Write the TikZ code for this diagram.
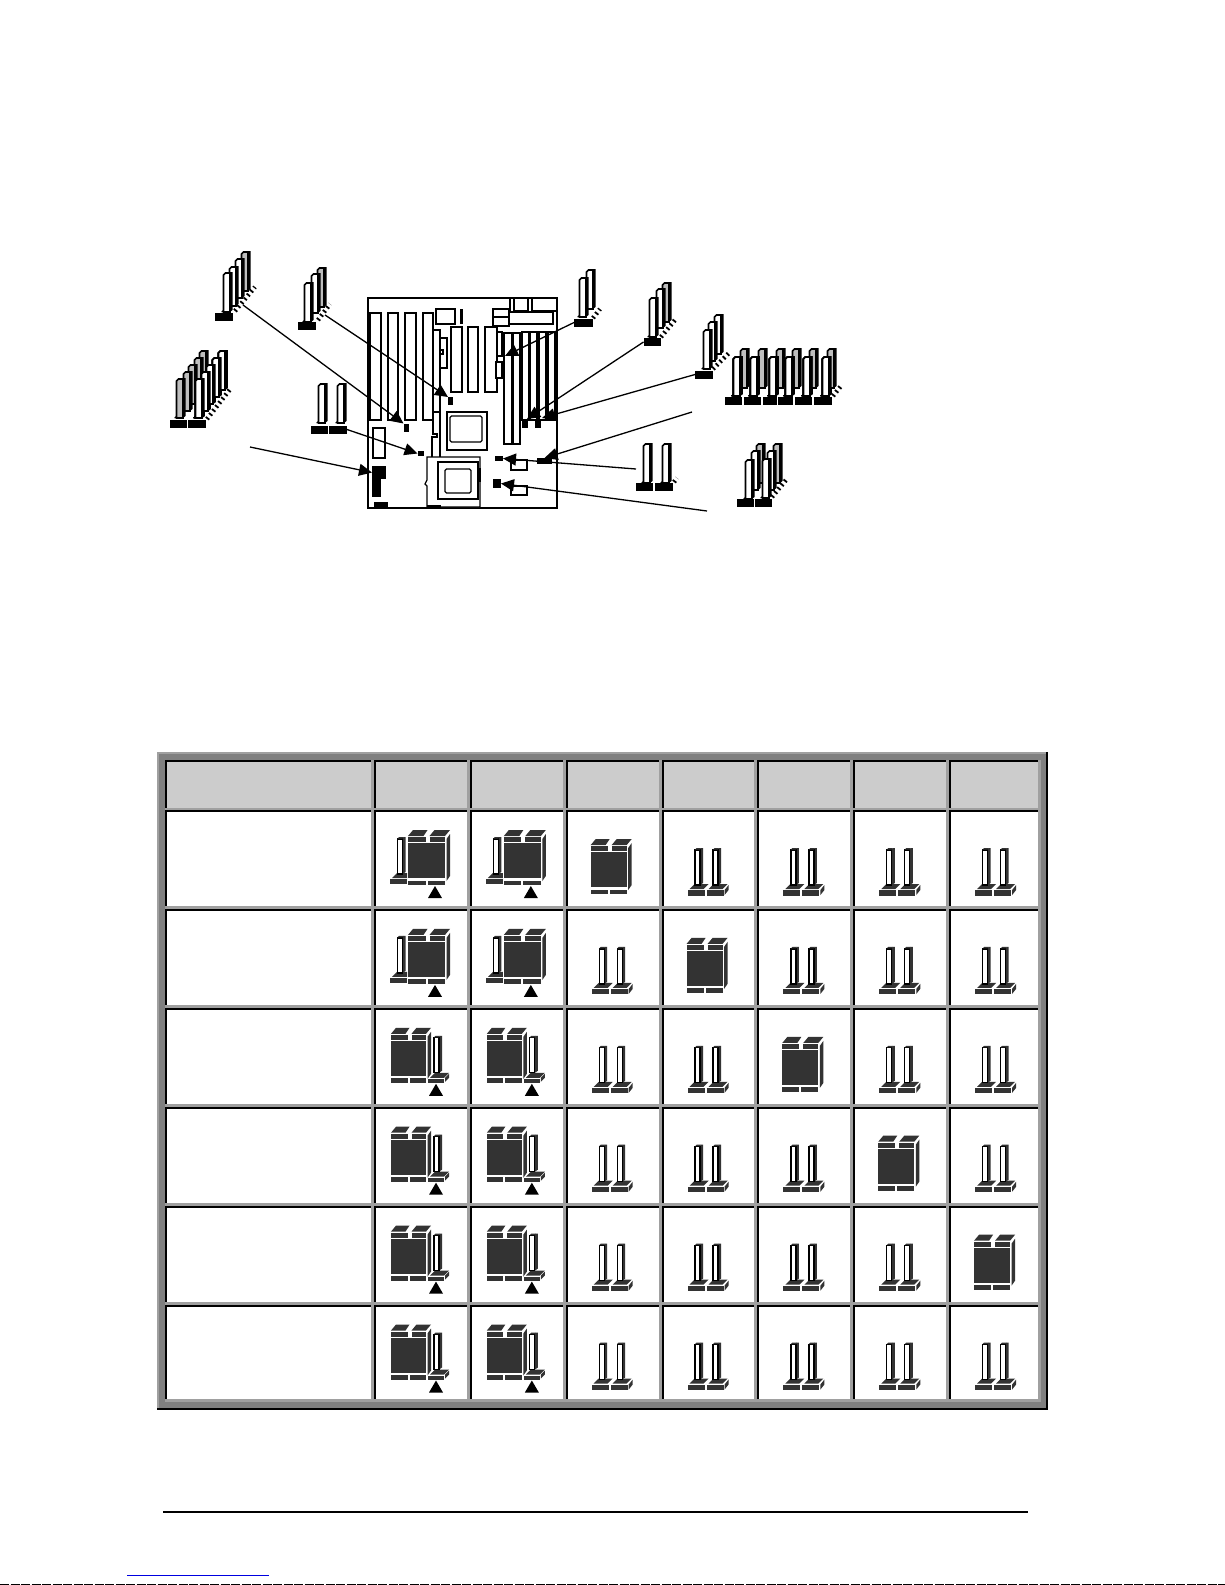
\documentclass[tikz,border=0pt]{standalone}
\usetikzlibrary{arrows.meta}
\definecolor{jmpdark}{HTML}{333333}
\definecolor{pingray}{HTML}{BEBEBE}
\definecolor{tabband}{HTML}{808080}
\definecolor{tabline}{HTML}{A0A0A0}
\definecolor{tabhead}{HTML}{CCCCCC}
\definecolor{pagelink}{HTML}{0000E0}
\tikzset{
	slot/.style={draw, line width=1.3pt, fill=white},
	spot/.style={fill=black, inner sep=0pt, outer sep=0pt, minimum width=5pt, minimum height=8pt},
	hdrbase/.style={fill=black, inner sep=0pt, outer sep=0pt, minimum width=17pt, minimum height=8pt},
	pointer/.style={line width=1.3pt, -{Stealth[length=13pt,width=12pt,inset=0pt]}},
	rail/.style={line width=4.5pt, dash pattern=on 1.8pt off 3.2pt}
}
% pin of a header on the board picture: left, top
\newcommand{\hdrpin}[3][white]{
	\fill (#2+5,#3+40) -- (#2-2,#3+40) -- (#2+5,#3+33) -- cycle;
	\draw[line width=1.6pt, fill=#1] (#2+.5,#3+3) -- (#2+2.5,#3+1) -- (#2+7,#3+1) -- (#2+7,#3+40) -- (#2+.5,#3+40) -- cycle;
	\fill (#2+7,#3+2) -- (#2+7.5,#3) -- (#2+9.5,#3) -- (#2+9.5,#3+38) -- (#2+7,#3+40) -- cycle;
}
% pin of a table icon, inside a cell scope
\newcommand{\tabpin}[2]{
	\fill[jmpdark] (#1+5,#2+1) -- (#1+6,#2) -- (#1+8,#2) -- (#1+8,#2+35) -- (#1+5,#2+37) -- cycle;
	\draw[line width=1.2pt, fill=white] (#1,#2+2) rectangle (#1+5,#2+37);
	\fill[jmpdark] (#1,#2+1.5) -- (#1+1.5,#2) -- (#1+6,#2) -- (#1+5,#2+1.5) -- cycle;
}
% piece of base with its top
\newcommand{\tabbase}[2]{
	\fill[jmpdark] (#1,#2) rectangle (#1+17,#2+5.5);
	\fill[jmpdark] (#1+2,#2-1) -- (#1+7,#2-6) -- (#1+21,#2-6) -- (#1+16,#2-1) -- cycle;
}
\newcommand{\openpair}{
	\tabbase{26}{80}
	\tabbase{45}{80}
	\fill[jmpdark] (63,85) -- (67,80) -- (67,75) -- (63,80) -- cycle;
	\tabpin{33.5}{38}
	\tabpin{51.5}{38}
}
% jumper cap: front corner, front width
\newcommand{\capjmp}[3]{
	\begin{scope}[shift={(#1,#2)}]
		\fill[jmpdark] (0,0) rectangle (#3,35);
		\fill[jmpdark] (0,-6) rectangle (#3/2-1,-1);
		\fill[jmpdark] (#3/2+3,-6) rectangle (#3,-1);
		\fill[jmpdark] (0,-7) -- (5,-13) -- (#3/2+1,-13) -- (#3/2-3,-7) -- cycle;
		\fill[jmpdark] (#3/2+3,-7) -- (#3/2+8,-13) -- (#3+5,-13) -- (#3,-7) -- cycle;
		\fill[jmpdark] (#3+1.5,-4) -- (#3+5,-9) -- (#3+5,33) -- (#3+1.5,38) -- cycle;
		\fill[jmpdark] (0,37.5) rectangle (#3/2-1,42);
		\fill[jmpdark] (#3/2+1,37.5) rectangle (#3,42);
	\end{scope}
}
\newcommand{\closedpair}{\capjmp{25}{42}{36}}
\newcommand{\jmptri}[1]{\fill (#1-7,88) -- (#1,76) -- (#1+7,88) -- cycle;}
\newcommand{\pinleft}{
	\fill[jmpdark] (16,69) rectangle (33,74);
	\fill[jmpdark] (18,68) -- (23,63) -- (33,63) -- (33,68) -- cycle;
	\tabpin{23.5}{27}
	\capjmp{34}{33}{37}
	\jmptri{61}
}
\newcommand{\pinright}{
	\capjmp{17}{33}{35}
	\fill[jmpdark] (54,71) rectangle (70,75);
	\fill[jmpdark] (56,70) -- (61,65) -- (75,65) -- (70,70) -- cycle;
	\fill[jmpdark] (71,74) -- (75,70) -- (75,66) -- (71,70) -- cycle;
	\tabpin{60}{28}
	\jmptri{62}
}
\begin{document}
\begin{tikzpicture}[x=1pt, y=-1pt]
	\useasboundingbox (0,0) rectangle (1225,1585);
	\fill[white] (0,0) rectangle (1225,1585);

	% the board
	\draw[line width=1.3pt] (368,298) rectangle (557,508);
	\foreach \sx/\sw in {370/11, 388/10, 405/11, 423/10}
		\draw[slot] (\sx,313) rectangle ++(\sw,107);
	\draw[line width=2pt] (370,313) -- (370,420);
	\draw[slot] (436,309) rectangle (455,324);
	\fill (460,309) rectangle (463,324);
	\draw[slot] (433,330) rectangle (440,412);
	\draw[slot] (440,338) rectangle (447,368);
	\draw[slot] (440,350) rectangle (443,354);
	\foreach \sx/\sw in {451/11, 468/10, 485/12}
		\draw[slot] (\sx,327) rectangle ++(\sw,65);
	\draw[slot] (497,332) rectangle (502,356);
	\draw[slot] (496,362) rectangle (502,378);
	\draw[slot] (493,309) rectangle (509,326);
	\draw[slot] (493,317) -- (509,317);
	\draw[slot] (509,312) rectangle (553,324);
	\draw[slot] (510,298) rectangle (514,312);
	\draw[slot] (514,298) rectangle (528,311);
	\draw[slot] (532,298) rectangle (557,311);
	\draw[slot] (504,333) rectangle (512,444);
	\draw[slot] (513,333) rectangle (520,444);
	\draw[line width=2pt] (512.5,333) -- (512.5,444);
	\foreach \sx in {522, 530, 539, 548}
		\draw[slot] (\sx,332) rectangle ++(7,88);
	\draw[slot] (447,412) rectangle (487,450);
	\draw[slot, rounded corners=1.5pt] (450,416) rectangle (482,442);
	\draw[slot] (373,428) rectangle (385,458);
	\draw[line width=1.2pt] (433,412) -- (433,434) -- (437,434) -- (437,437) -- (432,437) -- (432,457);
	\draw[line width=1.2pt] (440,412) -- (440,457);
	\draw[slot] (427,457) -- (480,457) -- (480,507) -- (427,507) -- (427,486) -- (425,484) -- (427,480) -- cycle;
	\draw[slot] (438,462) rectangle (478,499);
	\draw[slot, rounded corners=1.5pt] (445,469) rectangle (471,493);
	\fill (478,468) rectangle (481,482);
	\draw[slot] (511,460) rectangle (527,470);
	\draw[slot] (511,486) rectangle (527,495);
	\fill (427,505) rectangle (441,508);

	% jumpers on the board
	\node[spot] (spotA) at (406,427.5) {};
	\node[spot] (spotB) at (450.5,401) {};
	\node[spot, minimum width=6pt, minimum height=5pt] (spotC) at (420.5,453.5) {};
	\node[spot, minimum width=14pt, minimum height=13pt] (spotD) at (379,472.5) {};
	\node[spot, minimum width=9pt, minimum height=18pt] (spotD2) at (376.5,488) {};
	\node[spot, minimum width=14pt, minimum height=5pt] (spotD3) at (381,504.5) {};
	\node[spot, minimum width=6pt, minimum height=8pt] (spotF) at (525,424) {};
	\node[spot, minimum width=6pt, minimum height=8pt] (spotG) at (538,424) {};
	\node[spot, minimum width=15pt, minimum height=6pt] (spotH) at (544.5,461) {};
	\node[spot, minimum width=8pt, minimum height=5pt] (spotI) at (499,458.5) {};
	\node[spot, minimum width=8pt, minimum height=9pt] (spotJ) at (497,483.5) {};

	% header A
	\foreach \px/\py/\pc in {241/251/pingray, 235/258/white, 229/266/white, 223/272/white}
		\hdrpin[\pc]{\px}{\py}
	\node[hdrbase, minimum width=18pt] (baseA) at (224,317) {};
	\draw[rail] (235,311) -- (255,287);
	\coordinate (endA) at (243,305);
	% header B
	\foreach \px/\py/\pc in {317/267/pingray, 311/273/white, 304/282/white}
		\hdrpin[\pc]{\px}{\py}
	\node[hdrbase, minimum width=18pt] (baseB) at (307,325.5) {};
	\draw[rail] (318,320) -- (330,304);
	\coordinate (endB) at (325,315);
	% header C, two rows
	\foreach \px/\py/\pc in {199/350/pingray, 194/357/pingray, 188/364/pingray, 183/371/pingray, 176/378/pingray}
		\hdrpin[\pc]{\px}{\py}
	\foreach \px/\py in {218/350, 212/357, 206/364, 201/371, 195/378}
		\hdrpin{\px}{\py}
	\node[hdrbase] (baseC) at (178,424) {};
	\node[hdrbase, minimum width=18pt] (baseC2) at (196.5,424) {};
	\draw[rail] (207,419) -- (231,388);
	% header D
	\hdrpin{318}{383}
	\hdrpin{337}{383}
	\node[hdrbase] (baseD) at (319,429.5) {};
	\node[hdrbase, minimum width=18pt] (baseD2) at (338,429.5) {};
	% header E
	\foreach \px/\py in {586/269, 579/277}
		\hdrpin{\px}{\py}
	\node[hdrbase, minimum width=19pt] (baseE) at (583.5,322.5) {};
	\draw[rail] (593,318) -- (600,309);
	% header F
	\foreach \px/\py/\pc in {662/282/pingray, 656/288/white, 649/297/white}
		\hdrpin[\pc]{\px}{\py}
	\node[hdrbase] (baseF) at (652,342) {};
	\draw[rail] (661,337) -- (675,320);
	% header G
	\foreach \px/\py in {714/314, 708/321, 703/329}
		\hdrpin{\px}{\py}
	\node[hdrbase, minimum width=18pt] (baseG) at (704,374.5) {};
	\draw[rail] (713,369) -- (729,353);
	% header H, six pairs
	\foreach \px in {740, 758, 776, 792, 809, 827}
		\hdrpin[pingray]{\px}{348}
	\foreach \px in {733, 750, 769, 785, 803, 822}
		\hdrpin{\px}{356}
	\node[hdrbase] (baseH) at (733.5,400.5) {};
	\node[hdrbase] (baseH2) at (752.5,400.5) {};
	\node[hdrbase, minimum width=14pt] (baseH3) at (770,400.5) {};
	\node[hdrbase, minimum width=15pt] (baseH4) at (785.5,400.5) {};
	\node[hdrbase] (baseH5) at (803.5,400.5) {};
	\node[hdrbase, minimum width=18pt] (baseH6) at (823,400.5) {};
	\draw[rail] (833,396) -- (841,386);
	% header I
	\hdrpin{643}{443}
	\hdrpin{662}{443}
	\node[hdrbase] (baseI) at (644.5,487) {};
	\node[hdrbase, minimum width=18pt] (baseI2) at (664,487) {};
	\draw[rail] (674,482) -- (677,478);
	\coordinate (endI) at (636,469);
	% header J
	\foreach \px/\py/\pc in {756/443/pingray, 751/450/white, 745/459/white, 773/443/pingray, 767/450/white, 762/458/white}
		\hdrpin[\pc]{\px}{\py}
	\node[hdrbase] (baseJ) at (745,503) {};
	\node[hdrbase] (baseJ2) at (763,503) {};
	\draw[rail] (772,497) -- (786,480);

	% free ends
	\coordinate (endD) at (250,447);
	\coordinate (endH) at (692,412);
	\coordinate (endJ) at (707,511);
	\coordinate (tipF) at (527,419);
	\coordinate (tipG) at (542,418);
	\coordinate (tipE) at (505,356);

	% connectors
	\draw[pointer] (endA) -- (spotA.north west);
	\draw[pointer] (endB) -- (spotB.north west);
	\draw[pointer] (baseD2.east) -- (spotC.west);
	\draw[pointer] (endD) -- (spotD.west);
	\draw[pointer] (baseE.west) -- (tipE);
	\draw[pointer] (baseF.west) -- (tipF);
	\draw[pointer] (baseG.west) -- (tipG);
	\draw[pointer] (endH) -- (spotH.north);
	\draw[pointer] (endI) -- (spotI.east);
	\draw[pointer] (endJ) -- (spotJ.east);

	% the table
	\fill[tabline] (157,752) rectangle (1048,1410);
	\fill[tabband] (159,754) rectangle (1048,1410);
	\fill (1046,752) rectangle (1048,1410);
	\fill (157,1408) rectangle (1048,1410);
	\fill[tabline] (165,760) rectangle (1041,1402);
	\foreach \c in {0,...,7} {
		\pgfmathsetmacro{\xl}{\c==0 ? 165 : 374+95.85*(\c-1)}
		\pgfmathsetmacro{\xr}{\c==0 ? 374 : (\c==7 ? 1041 : 374+95.85*\c)}
		\fill (\xl,760) rectangle (\xr-3,808);
		\fill[tabhead] (\xl+2,762) rectangle (\xr-3,808);
		\foreach \r in {1,...,6} {
			\pgfmathsetmacro{\yt}{810+98.9*(\r-1)}
			\pgfmathsetmacro{\yb}{\r==6 ? 1402 : 810+98.9*\r}
			\fill (\xl,\yt) rectangle (\xr-3,\yb-3);
			\fill[white] (\xl+2,\yt+2) rectangle (\xr-3,\yb-3);
			\ifnum\c>0
				\begin{scope}[shift={(\xl,\yt)}]
					\ifnum\c<3
						\ifnum\r<3 \pinleft \else \pinright \fi
					\else
						\pgfmathtruncatemacro{\sel}{\c-2}
						\ifnum\sel=\r \closedpair \else \openpair \fi
					\fi
				\end{scope}
			\fi
		}
	}

	% foot of the page
	\draw[line width=2pt] (163,1512) -- (1028,1512);
	\draw[pagelink, line width=1pt] (127,1575) -- (269,1575);
	\draw[line width=1pt, dash pattern=on 9pt off 1.5pt] (0,1584.5) -- (1225,1584.5);
\end{tikzpicture}
\end{document}
